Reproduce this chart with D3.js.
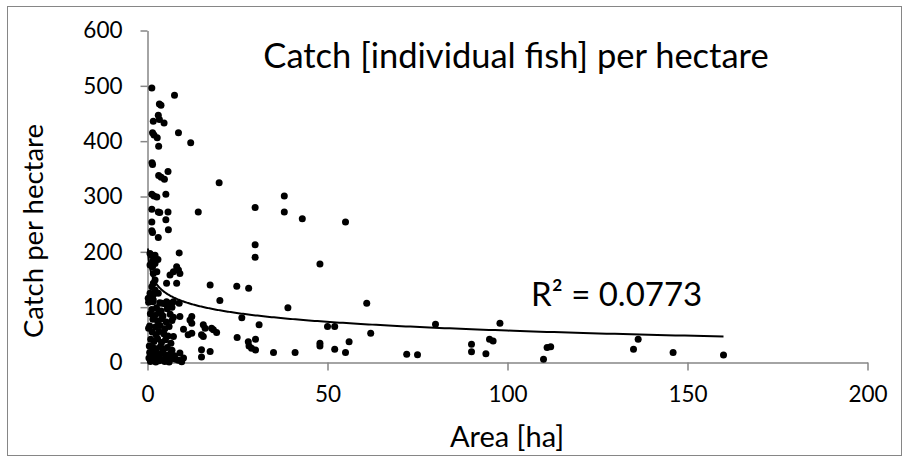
<!DOCTYPE html>
<html>
<head>
<meta charset="utf-8">
<script src="https://cdn.jsdelivr.net/npm/d3@7/dist/d3.min.js"></script>
<style>
  html, body { margin: 0; padding: 0; background: #fff; }
  svg { display: block; }
  text { font-family: Lato, "Open Sans", sans-serif; fill: #000; }
</style>
</head>
<body>
<svg id="chart" width="904" height="457"></svg>
<script>
// Pond area (ha) and catch (individual fish per hectare)
const area = [
  // high-catch small ponds
  1.2, 7.5, 3.3, 3.75, 3.0, 1.6, 3.3, 4.6, 8.6, 1.4, 1.8, 2.7, 12.0, 3.1, 1.25, 1.4, 5.7, 3.1, 3.8, 4.7,
  19.9, 1.2, 1.8, 2.6, 5.1, 1.2, 3.0, 3.4, 5.7, 14.1, 5.1, 1.2, 5.8, 1.2, 1.4, 3.0,
  // 100-200 band
  0.7, 1.2, 2.1, 1.7, 2.9, 1.6, 8.8, 0.7, 1.4, 2.1, 2.6, 1.6, 7.2, 8.1, 8.6, 9.0, 6.25, 5.3, 8.1, 2.1,
  1.6, 1.2, 17.4, 24.8, 28.1, 0.7, 0.2, 1.6, 2.1, 1.6, 3.0, 4.0, 5.3, 6.25, 7.2, 8.8, 20.1,
  // larger ponds
  29.9, 29.9, 29.9, 38.0, 38.0, 43.0, 55.0, 47.9, 39.0, 60.9, 26.2, 31.0, 24.9, 28.0, 28.2, 28.9, 30.0, 30.0,
  35.0, 41.0, 47.9, 47.9, 50.0, 52.0, 56.0, 52.0, 55.0, 62.0, 80.0, 97.9, 72.0, 75.0, 90.0, 90.0, 95.0, 96.0,
  94.0, 111.0, 112.0, 110.0, 136.3, 135.0, 146.0, 160.0,
  // 10-20 ha, low catch
  9.0, 12.3, 11.8, 12.3, 10.0, 11.3, 12.3, 15.5, 16.0, 17.8, 18.3, 19.2, 15.0, 15.5, 7.2, 15.0, 17.4, 15.0,
  9.0, 10.0, 9.5,
  // dense cluster of small ponds
  0.3, 1.5, 3.4, 4.8,
  1.2, 2.5, 3.8, 5.5, 6.8,
  0.8, 2.0, 3.0, 4.3, 6.3, 7.2,
  1.5, 2.8, 4.0, 5.2, 6.8,
  0.3, 0.6, 2.2, 3.5, 4.8, 6.0,
  1.3, 2.4, 3.2, 4.5, 5.7,
  0.9, 1.8, 2.8, 3.9, 5.0, 6.5,
  0.5, 1.5, 2.5, 3.6, 4.5, 5.5, 6.8,
  0.6, 1.4, 2.2, 3.0, 4.0, 5.0, 6.3, 7.5,
  0.4, 1.1, 1.9, 2.7, 3.5, 4.4, 5.4, 6.2, 7.8, 8.6,
  0.8, 2.3, 3.2, 4.8, 6.0
];
const catchPerHa = [
  496, 483, 467, 465, 447, 436, 439, 433, 415, 415, 411, 406, 397, 391, 361, 358, 345, 338, 335, 331,
  325, 304, 301, 299, 304, 277, 272, 271, 272, 272, 258, 254, 240, 238, 235, 226,
  197, 194, 194, 191, 186, 185, 198, 176, 173, 179, 164, 161, 164, 173, 167, 161, 158, 143, 143, 149,
  143, 137, 140, 138, 134, 125, 116, 122, 131, 113, 125, 107, 110, 107, 110, 107, 112,
  280, 213, 190, 301, 272, 260, 254, 178, 99, 107, 81, 68, 45, 37.5, 30, 25.6, 42, 22.6,
  18, 18, 35, 30, 65, 65, 37.5, 24, 18, 53, 69, 71, 15, 14, 33, 19.5, 42, 39,
  16, 27, 28.5, 6, 42, 24, 18, 13.5,
  83, 83, 77, 71, 60, 50, 53, 68, 62, 62, 59, 54, 50, 47, 47, 23, 20, 10,
  17, 8, 1.5,
  109, 110, 108, 106,
  96, 99, 93, 97, 100,
  88, 85, 89, 84, 87, 82,
  78, 75, 79, 73, 76,
  62, 66, 64, 67, 61, 65,
  55, 50, 56, 52, 48,
  42, 38, 43, 36, 41, 35,
  30, 27, 25, 29, 24, 27, 22,
  18, 15, 19, 14, 17, 13, 16, 12,
  8, 6, 9, 5, 7, 4, 8, 5, 6, 4,
  2, 1, 3, 2, 1
];

const xTicks = [0, 50, 100, 150, 200];
const yTicks = [0, 100, 200, 300, 400, 500, 600];

// Logarithmic trend line y = a*ln(x) + b
const trendA = -22.8;
const trendB = 162.7;
const trendRange = [0.15, 160];
const rSquared = "0.0773";

const svg = d3.select("#chart");
const axisColor = "#868686";

// outer frame
svg.append("rect")
  .attr("x", 7.5).attr("y", 6.5)
  .attr("width", 894).attr("height", 449)
  .attr("fill", "#fff")
  .attr("stroke", axisColor).attr("stroke-width", 1);

const x = d3.scaleLinear().domain([0, 200]).range([147.5, 867.5]);
const y = d3.scaleLinear().domain([0, 600]).range([362.5, 30.5]);

// x axis
const gx = svg.append("g")
  .attr("transform", `translate(0,${y(0)})`)
  .call(d3.axisBottom(x).tickValues(xTicks).tickSize(8).tickSizeOuter(0).tickPadding(16).tickFormat(d3.format("d")));
gx.select(".domain").attr("stroke", axisColor).attr("stroke-width", 1.5);
gx.selectAll(".tick line").attr("stroke", axisColor).attr("stroke-width", 1.5);
gx.selectAll(".tick text").attr("font-size", 22.5).attr("font-family", "Lato").attr("fill", "#000");

// y axis
const gy = svg.append("g")
  .attr("transform", `translate(${x(0)},0)`)
  .call(d3.axisLeft(y).tickValues(yTicks).tickSize(7).tickSizeOuter(0).tickPadding(18).tickFormat(d3.format("d")));
gy.select(".domain").attr("stroke", axisColor).attr("stroke-width", 1.5);
gy.selectAll(".tick line").attr("stroke", axisColor).attr("stroke-width", 1.5);
gy.selectAll(".tick text").attr("font-size", 22.5).attr("font-family", "Lato").attr("fill", "#000");

// points
const pts = area.map((a, i) => ({ a, c: catchPerHa[i] }));
svg.append("g").selectAll("circle")
  .data(pts)
  .join("circle")
  .attr("cx", d => x(d.a))
  .attr("cy", d => y(d.c))
  .attr("r", 3.5)
  .attr("fill", "#000");

// trend line
const trendX = d3.range(0, 401).map(i => trendRange[0] * Math.pow(trendRange[1] / trendRange[0], i / 400));
svg.append("path")
  .datum(trendX)
  .attr("fill", "none")
  .attr("stroke", "#000")
  .attr("stroke-width", 2)
  .attr("d", d3.line().x(d => x(d)).y(d => y(trendA * Math.log(d) + trendB)));

// titles
svg.append("text")
  .attr("x", 516).attr("y", 68)
  .attr("text-anchor", "middle")
  .attr("font-size", 34.5)
  .text("Catch [individual fish] per hectare");

svg.append("text")
  .attr("x", 507).attr("y", 447)
  .attr("text-anchor", "middle")
  .attr("font-size", 29)
  .text("Area [ha]");

svg.append("text")
  .attr("transform", "translate(43,231) rotate(-90)")
  .attr("text-anchor", "middle")
  .attr("font-size", 27.5)
  .text("Catch per hectare");

svg.append("text")
  .attr("x", 531).attr("y", 306)
  .attr("font-size", 33)
  .text(`R² = ${rSquared}`);
</script>
</body>
</html>
